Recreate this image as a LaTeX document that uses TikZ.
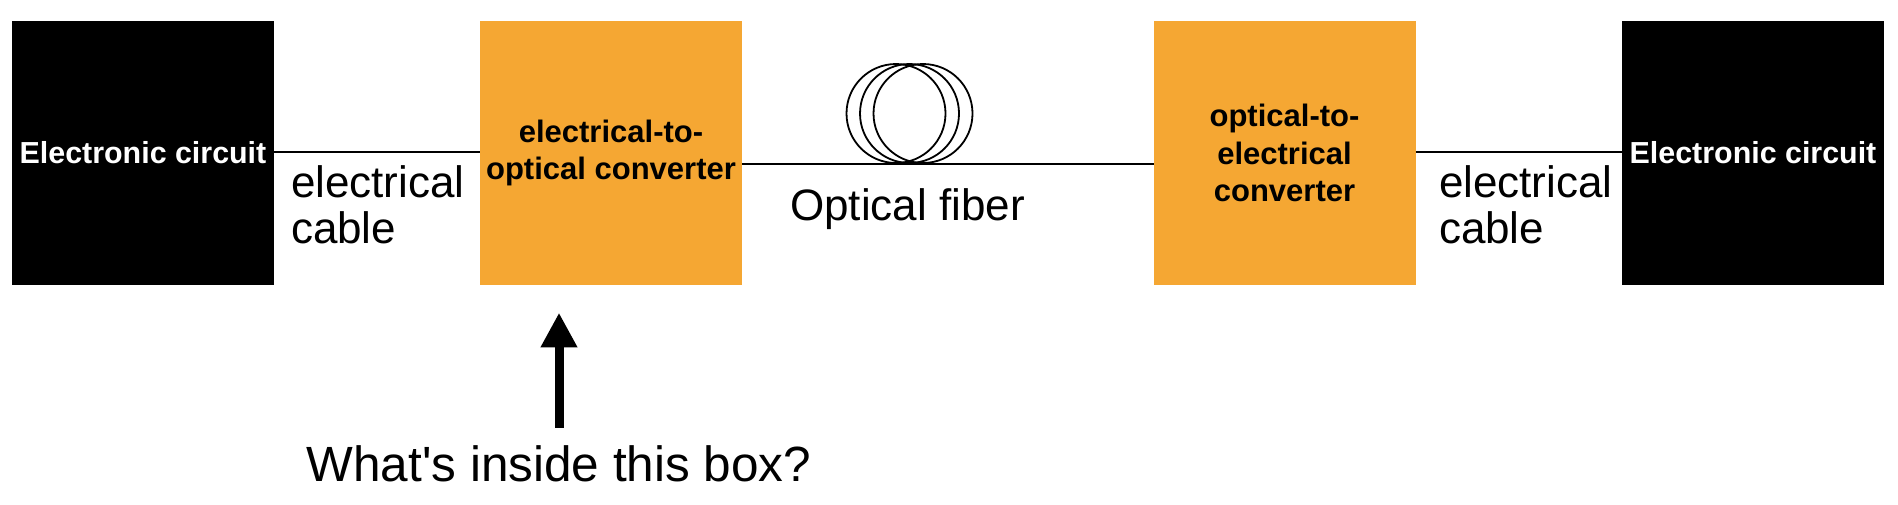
\documentclass[tikz,border=0pt]{standalone}
\usepackage{fontspec}
\setmainfont{Liberation Sans}
\newfontfamily\qfont{Liberation Sans}
\usetikzlibrary{arrows.meta}
\definecolor{boxorange}{RGB}{245,167,51}
\tikzset{
  blk/.style={fill=black, text=white, inner sep=0pt, outer sep=0pt,
    minimum width=131pt, minimum height=132pt,
    font=\fontsize{15.2pt}{19pt}\selectfont\bfseries},
  conv/.style={fill=boxorange, text=black, inner sep=0pt, outer sep=0pt,
    minimum width=131pt, minimum height=132pt, align=center,
    font=\fontsize{15.5pt}{18.9pt}\selectfont\bfseries},
  lbl/.style={inner sep=0pt, outer sep=0pt, align=left,
    font=\fontsize{22pt}{23pt}\selectfont},
  wire/.style={line width=1pt, black},
  coilline/.style={line width=0.9pt, black},
  bigarrow/.style={line width=4.5pt, -{Triangle[width=17.2pt,length=17.3pt]}}
}
\begin{document}
\begin{tikzpicture}[x=0.5pt,y=-0.5pt]
\useasboundingbox (0,0) rectangle (1898,504);
% boxes
\node[blk]  (e1) at (143,153)    {Electronic circuit};
\node[conv] (o1) at (611,153)    {electrical-to-\\optical converter};
\node[conv] (o2) at (1284.5,153) {optical-to-\\electrical\\converter};
\node[blk]  (e2) at (1753,153)   {Electronic circuit};
% wires
\draw[wire] ([yshift=0.5pt]e1.east) -- ([yshift=0.5pt]o1.west);
\draw[wire] ([yshift=-5.5pt]o1.east) -- ([yshift=-5.5pt]o2.west);
\draw[wire] ([yshift=0.5pt]o2.east) -- ([yshift=0.5pt]e2.west);
% fiber coil
\draw[coilline] (896,113.5) circle[radius=49.5];
\draw[coilline] (909.5,113.5) circle[radius=49.5];
\draw[coilline] (923,113.5) circle[radius=49.5];
% labels
\node[lbl, anchor=north west] (c1) at (291,165.5) {electrical\\cable};
\node[lbl, anchor=north west] (c2) at (1439,165.5) {electrical\\cable};
\node[lbl, anchor=base] (fib) at (907.5,220) {Optical fiber};
\node[inner sep=0pt, outer sep=0pt, anchor=base,
  font=\qfont\fontsize{24.75pt}{28pt}\selectfont] (q) at (559,481.7) {What's inside this box?};
% arrow
\coordinate (atip) at (559,312.7);
\draw[bigarrow, shorten <=9pt] (q.north) -- (atip);
\end{tikzpicture}
\end{document}
